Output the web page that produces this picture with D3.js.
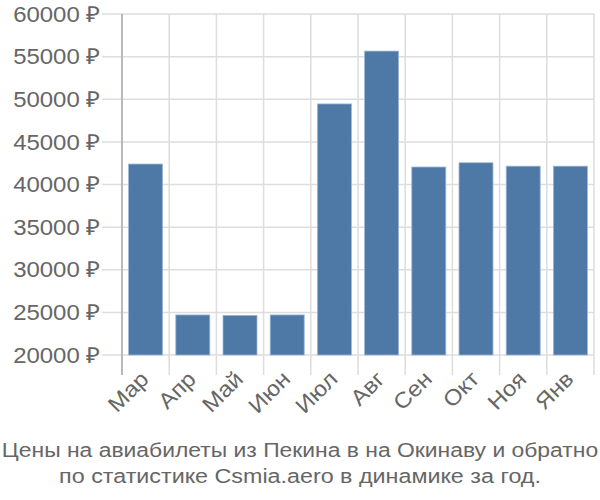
<!DOCTYPE html>
<html><head><meta charset="utf-8">
<script src="https://cdn.jsdelivr.net/npm/d3@7"></script>
<style>body{margin:0;background:#fff;} text{font-family:"Liberation Sans",Arial,sans-serif;fill:#666;}</style>
</head><body>
<svg id="c" width="600" height="500"></svg>
<script>
const categories = ["Мар","Апр","Май","Июн","Июл","Авг","Сен","Окт","Ноя","Янв"];
const values = [42400,24700,24650,24700,49450,55650,42050,42550,42150,42150];
const yTicks = [20000,25000,30000,35000,40000,45000,50000,55000,60000];
const titleLines = ["Цены на авиабилеты из Пекина в на Окинаву и обратно","по статистике Csmia.aero в динамике за год."];

const svg = d3.select("#c");
const m = {l:122, r:594, t:14, b:355};
const sx = 1.09;
const x = d3.scaleBand().domain(categories).range([m.l, m.r]).paddingInner(0.28).paddingOuter(0.14);
const xb = d3.scaleBand().domain(categories).range([m.l, m.r]);
const y = d3.scaleLinear().domain([20000,60000]).range([m.b, m.t]);

// horizontal grid
svg.append("g").selectAll("line").data(yTicks).join("line")
  .attr("x1", 102).attr("x2", m.r).attr("y1", d=>y(d)).attr("y2", d=>y(d))
  .attr("stroke","#dddddd").attr("stroke-width",1.5);
// vertical grid
const vx = categories.map(c=>xb(c)).concat([m.r]);
svg.append("g").selectAll("line").data(vx).join("line")
  .attr("x1", d=>d).attr("x2", d=>d).attr("y1", m.t).attr("y2", 375)
  .attr("stroke","#dddddd").attr("stroke-width",1.5);
// left axis line
svg.append("line").attr("x1",m.l).attr("x2",m.l).attr("y1",m.t).attr("y2",375)
  .attr("stroke","#aaaaaa").attr("stroke-width",1.5);

// bars
svg.append("g").selectAll("rect").data(values).join("rect")
  .attr("x",(d,i)=>x(categories[i])).attr("width",x.bandwidth())
  .attr("y",d=>y(d)).attr("height",d=>y(20000)-y(d))
  .attr("fill","#4e78a6").attr("stroke","#9bb6d4").attr("stroke-width",0.8);

// y labels
svg.append("g").selectAll("text").data(yTicks).join("text")
  .attr("transform",d=>`translate(100,${y(d)}) scale(${sx},1)`)
  .attr("dy","0.35em").attr("text-anchor","end")
  .style("font-size","22px").text(d=>d+" ₽");

// x labels
svg.append("g").selectAll("text").data(categories).join("text")
  .attr("transform",c=>`translate(${xb(c)+xb.bandwidth()/2-1},${375}) rotate(-45) scale(${sx},1)`)
  .attr("text-anchor","end").attr("dy","0.35em")
  .style("font-size","22px").text(c=>c);

// title
svg.append("g").selectAll("text").data(titleLines).join("text")
  .attr("transform",(d,i)=>`translate(300,${457+i*26}) scale(${i?1.11:sx},1)`)
  .attr("text-anchor","middle")
  .style("font-size","21px").text(d=>d);
</script>
</body></html>
